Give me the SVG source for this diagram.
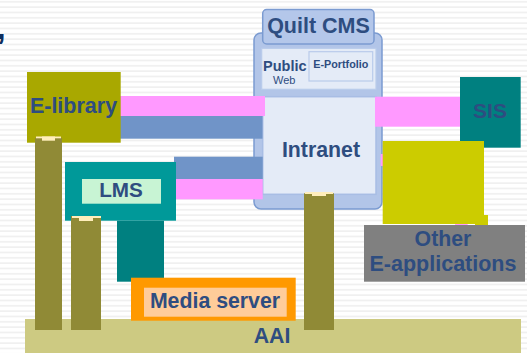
<svg xmlns="http://www.w3.org/2000/svg" width="527" height="353" viewBox="0 0 527 353">
<defs>
<pattern id="stripes" x="0" y="0" width="527" height="5.3333" patternUnits="userSpaceOnUse">
<rect x="0" y="1" width="527" height="1.6" fill="#efefef"/>
</pattern>
</defs>
<style>
.t{font-family:"Liberation Sans",Arial,sans-serif;font-weight:bold;fill:#2e4d80;text-anchor:middle}
.pink{fill:#ff99ff}
.blue{fill:#7094c8}
.pillar{fill:#908a36}
.cap{fill:#ffeebb}
.panel{fill:#e4ebf7;stroke:#b9cbea;stroke-width:1.2}
</style>
<rect width="527" height="353" fill="#ffffff"/>
<rect width="527" height="353" fill="url(#stripes)"/>
<text x="-3.5" y="39" font-family="Liberation Sans,Arial,sans-serif" font-weight="bold" font-size="33" fill="#0f2f5f">,</text>

<g id="aai">
<rect x="25" y="319" width="496" height="34" fill="#cdca82"/>
<text class="t" x="272" y="343" font-size="21.3">AAI</text>
</g>

<g id="quilt-cms">
<rect x="254" y="33" width="128" height="176" rx="7" fill="#b2c5e8" stroke="#7b9bd1" stroke-width="1.5"/>
<rect x="262.7" y="9.5" width="111.3" height="34.5" rx="4" fill="#b4c7ea" stroke="#7b9bd1" stroke-width="1.5"/>
<text class="t" x="318.5" y="33" font-size="21.5">Quilt CMS</text>
<rect class="panel" x="261.7" y="48.3" width="114.3" height="41"/>
<text x="263" y="71" font-family="Liberation Sans,Arial,sans-serif" font-weight="bold" font-size="14.5" fill="#2e4d80">Public</text>
<text x="273" y="84" font-family="Liberation Sans,Arial,sans-serif" font-size="11" fill="#2e4d80">Web</text>
<rect class="panel" x="309" y="51.7" width="63.7" height="29.3"/>
<text class="t" x="340.8" y="68" font-size="10.8">E-Portfolio</text>
<rect x="262.7" y="96.7" width="113.3" height="97.6" fill="#e4ebf7" stroke="#a8bde4" stroke-width="1.5"/>
<text class="t" x="321" y="156.5" font-size="21.3">Intranet</text>
</g>

<g id="connectors">
<rect class="pink" x="119" y="96" width="146" height="20"/>
<rect class="blue" x="120" y="116" width="142.5" height="22.7"/>
<rect class="blue" x="174" y="156.7" width="88.7" height="22.3"/>
<rect class="pink" x="174" y="179" width="88.7" height="20.3"/>
<rect class="pink" x="375" y="96.7" width="89" height="30"/>
<rect class="pink" x="380.7" y="154" width="3" height="12"/>
<rect class="pink" x="455" y="221" width="12.7" height="5.7"/>
</g>

<g id="e-library">
<rect x="27" y="72" width="93.7" height="70.7" fill="#a9a800"/>
<text class="t" x="73.5" y="113.3" font-size="21.5">E-library</text>
</g>

<g id="lms">
<rect x="65" y="162" width="111" height="58.7" fill="#009999"/>
<rect x="82" y="179" width="79" height="24.7" fill="#c8f4d4"/>
<text class="t" x="121" y="197.3" font-size="20.7">LMS</text>
<rect x="117" y="220.7" width="47" height="61" fill="#008080"/>
</g>

<g id="sis">
<rect x="460" y="77" width="60.7" height="70.7" fill="#008080"/>
<text class="t" x="490" y="118.3" font-size="21">SIS</text>
</g>

<g id="other-box">
<rect x="382.7" y="141" width="101.3" height="83" fill="#cccc00"/>
<rect x="475" y="215" width="13" height="11.7" fill="#cccc00"/>
</g>

<g id="other-e-applications">
<rect x="364" y="225" width="161" height="56.7" fill="#808080"/>
<text class="t" x="443" y="245.5" font-size="21.3">Other</text>
<text class="t" x="443" y="270.7" font-size="21.5">E-applications</text>
</g>

<g id="media-server">
<rect x="131" y="277.7" width="164.7" height="43" fill="#ff9900"/>
<rect x="144" y="287.7" width="142.7" height="29" fill="#ffcc99"/>
<text class="t" x="215" y="308.3" font-size="21.3">Media server</text>
</g>

<g id="pillars">
<rect class="pillar" x="35" y="138" width="27" height="192"/>
<rect class="cap" x="36" y="136.5" width="25" height="1.8"/>
<rect class="cap" x="42" y="136.5" width="13" height="4.2"/>
<rect class="pillar" x="71" y="216" width="30" height="114"/>
<rect class="cap" x="72" y="216" width="29" height="2"/>
<rect class="cap" x="79" y="216" width="14" height="5"/>
<rect class="pillar" x="304" y="193.3" width="30" height="136.7"/>
<rect class="cap" x="305" y="192" width="28" height="2"/>
<rect class="cap" x="312" y="192" width="14" height="4"/>
</g>
</svg>
